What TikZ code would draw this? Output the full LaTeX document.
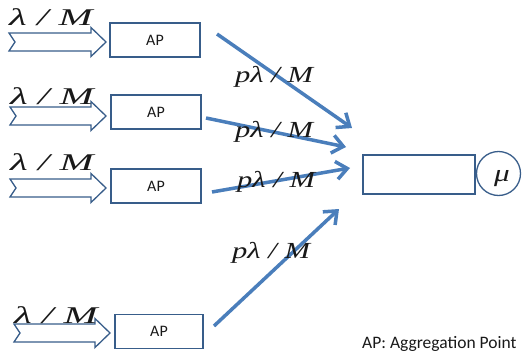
\documentclass[tikz,border=0pt]{standalone}
\usepackage{fontspec}
\setmainfont{Liberation Serif}
\newfontfamily\labelsans{Carlito}
\usetikzlibrary{arrows.meta}
\definecolor{boxline}{RGB}{56,93,138}
\definecolor{flowblue}{RGB}{74,126,187}
\definecolor{ink}{RGB}{25,25,25}
\tikzset{
  apbox/.style={draw=boxline, line width=1.3pt, fill=white, minimum width=90pt,
    minimum height=34pt, inner sep=0pt, text=ink,
    font=\labelsans\fontsize{16}{16}\selectfont},
  blockarrow/.style={draw=boxline, line width=1.3pt, fill=white, line join=miter},
  flow/.style={draw=flowblue, line width=3.5pt,
    -{Straight Barb[length=11pt,width=18pt,line width=3.5pt]}},
  ratein/.style={anchor=base west, inner sep=0pt, text=ink,
    font=\fontsize{24}{24}\selectfont\itshape},
  rateout/.style={anchor=base west, inner sep=0pt, text=ink,
    font=\fontsize{23}{23}\selectfont\itshape},
}
% wide hollow input arrow: tail x, tip x, centre y
\newcommand{\inarrow}[3]{%
  \path[blockarrow] (#1,#3-9) -- (#2-15,#3-9) -- (#2-15,#3-14.5) -- (#2,#3)
    -- (#2-15,#3+14.5) -- (#2-15,#3+9) -- (#1,#3+9) -- (#1+6,#3) -- cycle;}
\newcommand{\inrate}{\scalebox{1.7}[1]{λ / M}}
\newcommand{\outrate}{\scalebox{1.33}[1]{pλ / M}}
\begin{document}
\begin{tikzpicture}[x=1pt, y=-1pt]
\useasboundingbox (0,0) rectangle (530,356);

% input block arrows and their rates
\inarrow{9}{106}{42}
\inarrow{10}{106}{116}
\inarrow{10}{106}{188}
\inarrow{14}{110}{333}
\node[ratein] (r1) at (9,25) {\inrate};
\node[ratein] (r2) at (10,104) {\inrate};
\node[ratein] (r3) at (10,170) {\inrate};
\node[ratein] (r4) at (14,323) {\inrate};

% aggregation points
\node[apbox] (ap1) at (155,40) {AP};
\node[apbox] (ap2) at (156,112) {AP};
\node[apbox] (ap3) at (156,186) {AP};
\node[apbox, minimum width=88pt] (ap4) at (159,331.5) {AP};

% queue and server
\node[draw=boxline, line width=1.3pt, minimum width=112pt, minimum height=39pt,
  inner sep=0pt] (queue) at (419,174.5) {};
\node[draw=boxline, line width=1.3pt, circle, minimum size=44pt, inner sep=0pt]
  (server) at (498.5,173.5) {};
\node[anchor=base, inner sep=0pt, text=ink, font=\fontsize{24}{24}\selectfont\itshape]
  (mu) at (502,181) {\scalebox{1.3}[1]{μ}};

% flows from the aggregation points to the queue
\coordinate (s1) at (217,34);  \coordinate (t1) at (352,128);
\coordinate (s2) at (206,118); \coordinate (t2) at (346,147);
\coordinate (s3) at (212,192); \coordinate (t3) at (350,168);
\coordinate (s4) at (214,326); \coordinate (t4) at (339,209);
\draw[flow] (s1) -- (t1);
\draw[flow] (s2) -- (t2);
\draw[flow] (s3) -- (t3);
\draw[flow] (s4) -- (t4);

\node[rateout] (p1) at (235,82) {\outrate};
\node[rateout] (p2) at (235,137) {\outrate};
\node[rateout] (p3) at (237,187) {\outrate};
\node[rateout] (p4) at (232,258) {\outrate};

\node[anchor=base west, inner sep=0pt, text=ink,
  font=\labelsans\fontsize{17.5}{17.5}\selectfont]
  (legend) at (362,348) {AP: Aggregation Point};
\end{tikzpicture}
\end{document}
